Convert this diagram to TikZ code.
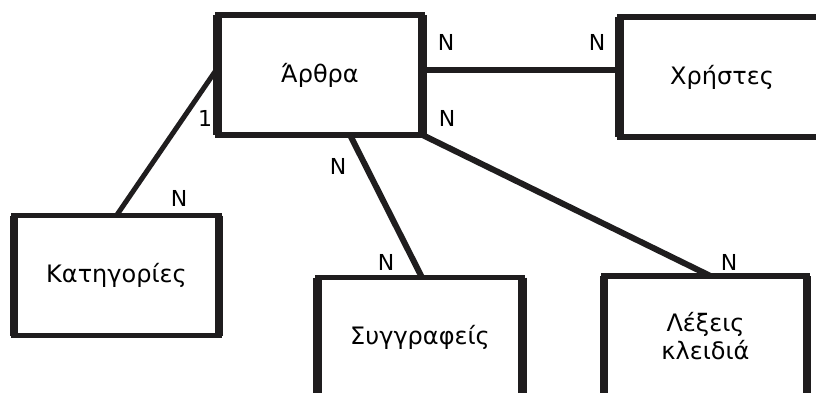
\documentclass[tikz,border=0pt]{standalone}
\usepackage{fontspec}
\setmainfont{DejaVu Sans}
\usetikzlibrary{calc}
\definecolor{ink}{HTML}{1F1D1E}
\tikzset{
  entity/.style={draw=ink, line width=5.5pt, rectangle, outer sep=0pt,
    minimum width=205pt, minimum height=120pt, inner sep=0pt,
    align=center, font=\fontsize{24}{28}\selectfont},
  side/.style={draw=ink, line width=8.5pt},
  link/.style={draw=ink, line width=6pt},
  card/.style={font=\fontsize{22}{24}\selectfont, inner sep=0pt}
}
\begin{document}
\begin{tikzpicture}[x=1pt, y=-1pt]
  \useasboundingbox (0,0) rectangle (816,392);
  \clip (0,0) rectangle (816,392);

  % entities
  \node[entity] (arthra) at (320,75) {Άρθρα};
  \node[entity] (xristes) at (722,77) {Χρήστες};
  \node[entity] (kat) at (116.5,275.5) {Κατηγορίες};
  \node[entity] (syg) at (420,337.5) {Συγγραφείς};
  \node[entity, minimum width=203pt] (lex) at (705.5,336) {Λέξεις\\κλειδιά};

  % heavier vertical sides
  \foreach \n in {arthra,xristes,kat,syg,lex}{
    \draw[side] (\n.north west) -- (\n.south west);
    \draw[side] (\n.north east) -- (\n.south east);
  }

  % relationships
  \draw[link] ([yshift=5pt]arthra.east) -- ([yshift=7pt]xristes.west);
  \draw[link, line width=5pt] ([yshift=7pt]arthra.west) -- (kat.north);
  \draw[link] ([xshift=30pt]arthra.south) -- ([xshift=2pt]syg.north);
  \draw[link] (arthra.south east) -- ([xshift=5pt]lex.north);

  % cardinalities
  \node[card] (c1) at (446,42) {N};
  \node[card] (c2) at (597,42) {N};
  \node[card] (c3) at (447,118) {N};
  \node[card] (c4) at (205,118) {1};
  \node[card] (c5) at (179,198) {N};
  \node[card] (c6) at (338,166) {N};
  \node[card] (c7) at (386,262) {N};
  \node[card] (c8) at (729,262) {N};
\end{tikzpicture}
\end{document}
